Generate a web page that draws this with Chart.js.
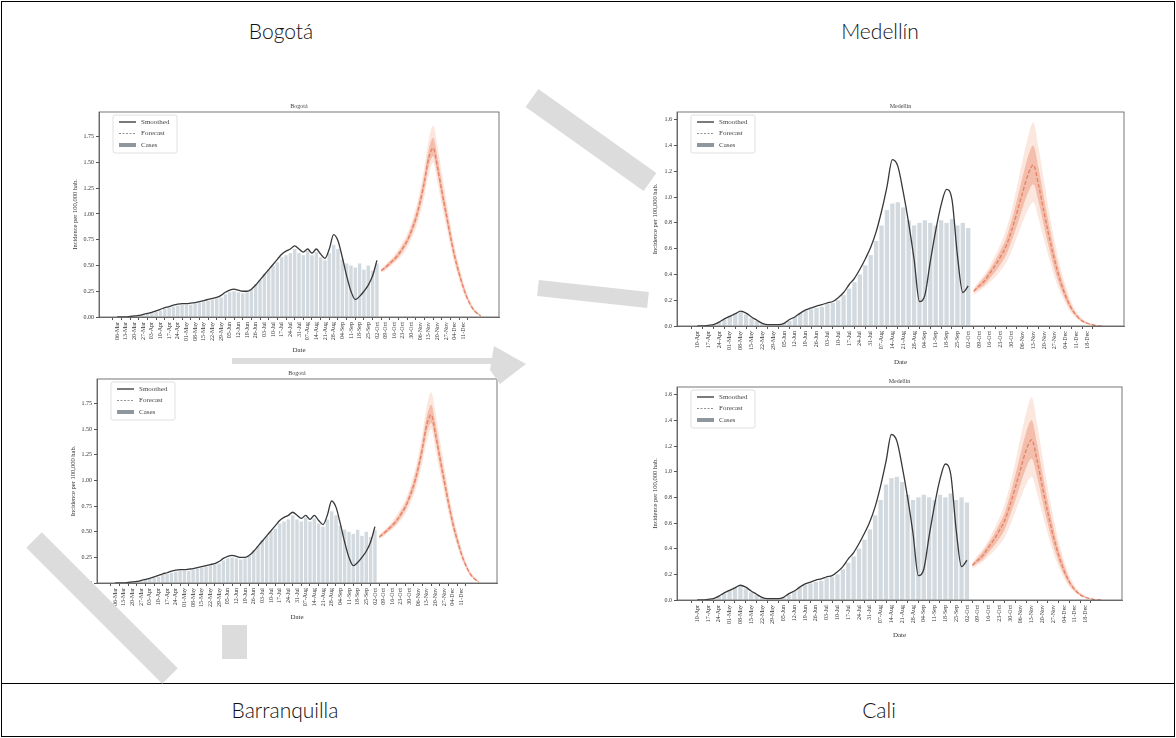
<!DOCTYPE html>
<html>
<head>
<meta charset="utf-8">
<script src="https://cdn.jsdelivr.net/npm/chart.js@4.4.1/dist/chart.umd.min.js"></script>
<style>
body { margin: 0; background: #fff; width: 1176px; height: 738px; position: relative; overflow: hidden; font-family: "Lato", "Open Sans", sans-serif; }
#box { position: absolute; left: 1px; top: 1px; width: 1172px; height: 734px; border: 1px solid #000; }
#sep { position: absolute; left: 1px; top: 683px; width: 1174px; border-top: 1px solid #000; }
.city { position: absolute; font-size: 21px; font-weight: 300; color: #111; transform: translateX(-50%); white-space: nowrap; }
canvas { position: absolute; }
svg { position: absolute; left: 0; top: 0; pointer-events: none; }
</style>
</head>
<body>
<div id="box"></div>
<div id="sep"></div>
<div class="city" style="left:281px;top:18px">Bogotá</div>
<div class="city" style="left:880px;top:18px">Medellín</div>
<div class="city" style="left:285px;top:697px">Barranquilla</div>
<div class="city" style="left:879px;top:697px">Cali</div>

<canvas id="bogotaTop" width="449" height="254" style="left:71px;top:100px"></canvas>
<canvas id="bogotaBottom" width="449" height="254" style="left:69px;top:367px"></canvas>
<canvas id="medellinTop" width="494" height="266" style="left:651px;top:100px"></canvas>
<canvas id="medellinBottom" width="492" height="264" style="left:651px;top:375px"></canvas>

<svg width="1176" height="738">
  <g fill="#dcdcdc" stroke="#dcdcdc">
    <line x1="532" y1="98" x2="650" y2="182" stroke-width="22"/>
    <line x1="538" y1="288" x2="648" y2="300" stroke-width="16"/>
    <line x1="232" y1="361" x2="496" y2="361" stroke-width="6"/>
    <polygon points="494,346 526,364 500,384 490,370" stroke="none"/>
    <line x1="34" y1="540" x2="170" y2="676" stroke-width="22"/>
    <rect x="222" y="625" width="25" height="34" stroke="none"/>
  </g>
</svg>

<script>
// weekly tick labels
const bogotaDates = ["06-Mar","13-Mar","20-Mar","27-Mar","03-Apr","10-Apr","17-Apr","24-Apr","01-May","08-May",
  "15-May","22-May","29-May","05-Jun","12-Jun","19-Jun","26-Jun","03-Jul","10-Jul","17-Jul",
  "24-Jul","31-Jul","07-Aug","14-Aug","21-Aug","28-Aug","04-Sep","11-Sep","18-Sep","25-Sep",
  "02-Oct","09-Oct","16-Oct","23-Oct","30-Oct","06-Nov","13-Nov","20-Nov","27-Nov","04-Dec","11-Dec"];
const medellinDates = ["10-Apr","17-Apr","24-Apr","01-May","08-May","15-May","22-May","29-May","05-Jun","12-Jun",
  "19-Jun","26-Jun","03-Jul","10-Jul","17-Jul","24-Jul","31-Jul","07-Aug","14-Aug","21-Aug",
  "28-Aug","04-Sep","11-Sep","18-Sep","25-Sep","02-Oct","09-Oct","16-Oct","23-Oct","30-Oct",
  "06-Nov","13-Nov","20-Nov","27-Nov","04-Dec","11-Dec","18-Dec"];

const bogotaYTicks = [0, 0.25, 0.5, 0.75, 1, 1.25, 1.5, 1.75];
const medellinYTicks = [0, 0.2, 0.4, 0.6, 0.8, 1.0, 1.2, 1.4, 1.6];

// Bogotá: one value every half week
const bogotaCases = [0,0,0,0.005,0.01,0.01,0.02,0.03,0.04,0.05,0.06,
  0.08,0.09,0.10,0.11,0.12,0.12,0.12,0.13,0.14,0.15,
  0.16,0.17,0.18,0.19,0.22,0.24,0.25,0.24,0.23,0.24,
  0.27,0.32,0.36,0.42,0.46,0.50,0.53,0.58,0.60,0.62,
  0.66,0.62,0.60,0.64,0.60,0.63,0.58,0.55,0.62,0.70,
  0.66,0.56,0.52,0.50,0.48,0.52,0.46,0.50,0.45,0.52];
const bogotaSmoothed = [0,0,0,0.005,0.01,0.015,0.025,0.035,0.045,0.06,0.075,
  0.09,0.10,0.115,0.125,0.13,0.13,0.135,0.14,0.15,0.16,
  0.17,0.18,0.19,0.21,0.24,0.26,0.27,0.26,0.25,0.25,
  0.27,0.31,0.36,0.41,0.46,0.51,0.56,0.61,0.64,0.66,
  0.69,0.66,0.63,0.66,0.62,0.66,0.61,0.57,0.66,0.80,
  0.74,0.58,0.40,0.25,0.17,0.20,0.25,0.31,0.40,0.55];
const bogotaForecastStart = 61;
const bogotaForecast = [0.45,0.48,0.52,0.56,0.61,0.67,0.74,0.84,0.96,1.12,1.32,1.55,1.64,1.45,1.22,1.00,0.78,0.58,0.42,0.28,0.17,0.09,0.04,0.01];
const bogotaInnerHigh = [0.46,0.50,0.54,0.58,0.63,0.70,0.77,0.88,1.01,1.18,1.39,1.63,1.74,1.55,1.30,1.07,0.84,0.63,0.46,0.31,0.19,0.10,0.05,0.015];
const bogotaInnerLow = [0.44,0.47,0.50,0.54,0.58,0.64,0.71,0.80,0.91,1.06,1.25,1.47,1.56,1.38,1.15,0.94,0.73,0.54,0.39,0.26,0.16,0.08,0.035,0.01];
const bogotaOuterHigh = [0.47,0.51,0.55,0.60,0.66,0.73,0.81,0.92,1.06,1.24,1.47,1.73,1.86,1.66,1.40,1.15,0.90,0.68,0.50,0.34,0.21,0.12,0.06,0.02];
const bogotaOuterLow = [0.43,0.45,0.49,0.52,0.56,0.61,0.67,0.76,0.86,1.00,1.18,1.38,1.50,1.30,1.08,0.88,0.68,0.50,0.36,0.23,0.14,0.07,0.03,0.01];

// Medellín
const medellinCases = [0,0,0.005,0.01,0.03,0.05,0.08,0.10,0.11,0.09,0.06,
  0.04,0.02,0.01,0.01,0.01,0.02,0.04,0.07,0.10,0.12,
  0.13,0.14,0.15,0.17,0.18,0.20,0.24,0.29,0.34,0.40,
  0.47,0.55,0.66,0.78,0.90,0.95,0.96,0.92,0.82,0.78,
  0.80,0.82,0.80,0.78,0.82,0.80,0.83,0.78,0.80,0.76];
const medellinSmoothed = [0,0,0.005,0.01,0.03,0.055,0.075,0.095,0.115,0.10,0.07,
  0.045,0.02,0.01,0.01,0.01,0.02,0.05,0.07,0.10,0.125,
  0.14,0.155,0.165,0.18,0.19,0.22,0.26,0.32,0.37,0.44,
  0.52,0.61,0.73,0.89,1.08,1.29,1.24,1.04,0.80,0.52,
  0.19,0.24,0.50,0.74,0.94,1.06,0.98,0.55,0.26,0.31];
const medellinForecastStart = 51;
const medellinForecast = [0.27,0.31,0.35,0.41,0.47,0.54,0.62,0.74,0.88,1.03,1.17,1.25,1.09,0.88,0.68,0.50,0.35,0.23,0.14,0.08,0.04,0.02,0.01,0,0];
const medellinInnerHigh = [0.28,0.33,0.38,0.44,0.51,0.59,0.68,0.82,0.98,1.15,1.31,1.40,1.22,0.99,0.77,0.57,0.40,0.27,0.16,0.09,0.05,0.025,0.01,0,0];
const medellinInnerLow = [0.26,0.29,0.32,0.37,0.42,0.48,0.55,0.66,0.78,0.91,1.03,1.10,0.96,0.77,0.59,0.43,0.30,0.20,0.12,0.07,0.035,0.015,0.008,0,0];
const medellinOuterHigh = [0.29,0.35,0.40,0.47,0.55,0.64,0.75,0.90,1.08,1.28,1.46,1.58,1.38,1.12,0.87,0.65,0.46,0.31,0.19,0.11,0.06,0.03,0.015,0.005,0];
const medellinOuterLow = [0.24,0.27,0.30,0.34,0.38,0.43,0.49,0.58,0.69,0.80,0.90,0.96,0.83,0.67,0.51,0.37,0.26,0.17,0.10,0.06,0.03,0.015,0.005,0,0];

const legendLabels = ["Smoothed", "Forecast", "Cases"];
const yTitle = "Incidence per 100,000 hab.";
const xTitle = "Date";

const serif = "'Liberation Serif', 'DejaVu Serif', serif";
Chart.defaults.font.family = serif;
Chart.defaults.color = "#333";

function toPoints(values, start) {
    return values.map((v, k) => ({ x: start + k, y: v }));
}

// matplotlib-like frame, small title and legend box
const mplDecor = {
    id: "mplDecor",
    afterDraw(chart, args, opts) {
        const { ctx, chartArea: a } = chart;
        ctx.save();
        ctx.strokeStyle = "#555";
        ctx.lineWidth = 0.8;
        ctx.strokeRect(a.left, a.top, a.right - a.left, a.bottom - a.top);

        ctx.fillStyle = "#444";
        ctx.font = "6px " + serif;
        ctx.textAlign = "center";
        ctx.textBaseline = "bottom";
        ctx.fillText(opts.title, (a.left + a.right) / 2, a.top - 3);

        const x0 = a.left + 14, y0 = a.top + 3;
        ctx.fillStyle = "rgba(255,255,255,0.85)";
        ctx.strokeStyle = "#d8d8d8";
        ctx.beginPath();
        ctx.roundRect(x0, y0, 64, 38, 2);
        ctx.fill();
        ctx.stroke();

        ctx.font = "7px " + serif;
        ctx.textAlign = "left";
        ctx.textBaseline = "middle";
        legendLabels.forEach((label, k) => {
            const y = y0 + 7 + k * 11.5;
            if (k === 2) {
                ctx.fillStyle = "#8e979e";
                ctx.fillRect(x0 + 6, y - 2, 17, 4);
            } else {
                ctx.beginPath();
                ctx.strokeStyle = k === 0 ? "#333" : "#777";
                ctx.lineWidth = k === 0 ? 1.3 : 0.8;
                ctx.setLineDash(k === 0 ? [] : [2, 1.5]);
                ctx.moveTo(x0 + 6, y);
                ctx.lineTo(x0 + 23, y);
                ctx.stroke();
                ctx.setLineDash([]);
            }
            ctx.fillStyle = "#444";
            ctx.fillText(label, x0 + 28, y);
        });
        ctx.restore();
    }
};

function buildChart(id, s) {
    const last = s.fcStart + s.forecast.length - 1;
    const margin = last * 0.05;
    const band = { type: "line", pointRadius: 0, borderWidth: 1, borderColor: "transparent", cubicInterpolationMode: "monotone" };
    new Chart(document.getElementById(id), {
        type: "bar",
        data: {
            datasets: [
                { type: "line", label: legendLabels[0], data: toPoints(s.smoothed, 0), borderColor: "#383838", borderWidth: 1.3, pointRadius: 0, cubicInterpolationMode: "monotone", order: 1 },
                { type: "line", label: legendLabels[1], data: toPoints(s.forecast, s.fcStart), borderColor: "rgba(225,118,88,0.8)", borderWidth: 1.4, borderDash: [4, 2], pointRadius: 0, cubicInterpolationMode: "monotone", order: 2 },
                { ...band, data: toPoints(s.innerHigh, s.fcStart), fill: "+1", backgroundColor: "rgba(236,140,110,0.45)", order: 3 },
                { ...band, data: toPoints(s.innerLow, s.fcStart), fill: false, order: 3 },
                { ...band, data: toPoints(s.outerHigh, s.fcStart), fill: "+1", backgroundColor: "rgba(245,175,150,0.3)", order: 4 },
                { ...band, data: toPoints(s.outerLow, s.fcStart), fill: false, order: 4 },
                { type: "bar", label: legendLabels[2], data: toPoints(s.cases, 0), backgroundColor: "#d3dadf", barPercentage: 0.8, categoryPercentage: 1, order: 10 }
            ]
        },
        options: {
            responsive: false,
            animation: false,
            devicePixelRatio: 1,
            layout: { padding: { left: 0, right: s.padRight, top: 12, bottom: 0 } },
            plugins: {
                legend: { display: false },
                tooltip: { enabled: false },
                mplDecor: { title: s.title }
            },
            scales: {
                x: {
                    type: "linear",
                    offset: false,
                    min: -margin,
                    max: last + margin,
                    grid: { drawOnChartArea: false, drawTicks: true, tickLength: 3, color: "#555" },
                    border: { color: "#555", width: 0.8 },
                    ticks: { font: { size: 6 }, minRotation: 90, maxRotation: 90, autoSkip: false, padding: 2,
                        callback: (v, i) => s.dates[i] },
                    afterBuildTicks: sc => { sc.ticks = s.dates.map((d, k) => ({ value: 2 * k })); },
                    afterFit: sc => { sc.height = s.xHeight; },
                    title: { display: true, text: xTitle, font: { size: 7 }, padding: 0 }
                },
                y: {
                    min: 0,
                    max: s.yMax,
                    grid: { drawOnChartArea: false, drawTicks: true, tickLength: 3, color: "#555" },
                    border: { color: "#555", width: 0.8 },
                    ticks: { font: { size: 6 }, padding: 2, callback: v => v.toFixed(s.decimals) },
                    afterBuildTicks: sc => { sc.ticks = s.yTicks.map(v => ({ value: v })); },
                    afterFit: sc => { sc.width = s.yWidth; },
                    title: { display: true, text: yTitle, font: { size: 6.5 }, padding: 0 }
                }
            }
        },
        plugins: [mplDecor]
    });
}

const bogota = {
    title: "Bogotá", dates: bogotaDates, yTicks: bogotaYTicks, yMax: 1.99, decimals: 2,
    cases: bogotaCases, smoothed: bogotaSmoothed, fcStart: bogotaForecastStart, forecast: bogotaForecast,
    innerHigh: bogotaInnerHigh, innerLow: bogotaInnerLow, outerHigh: bogotaOuterHigh, outerLow: bogotaOuterLow
};
const medellin = {
    title: "Medellín", dates: medellinDates, yTicks: medellinYTicks, yMax: 1.66, decimals: 1,
    cases: medellinCases, smoothed: medellinSmoothed, fcStart: medellinForecastStart, forecast: medellinForecast,
    innerHigh: medellinInnerHigh, innerLow: medellinInnerLow, outerHigh: medellinOuterHigh, outerLow: medellinOuterLow
};

buildChart("bogotaTop", { ...bogota, yWidth: 28, xHeight: 37, padRight: 21 });
buildChart("bogotaBottom", { ...bogota, yWidth: 28, xHeight: 38, padRight: 21 });
buildChart("medellinTop", { ...medellin, yWidth: 26, xHeight: 40, padRight: 21 });
buildChart("medellinBottom", { ...medellin, yWidth: 26, xHeight: 39, padRight: 21 });
</script>
</body>
</html>
